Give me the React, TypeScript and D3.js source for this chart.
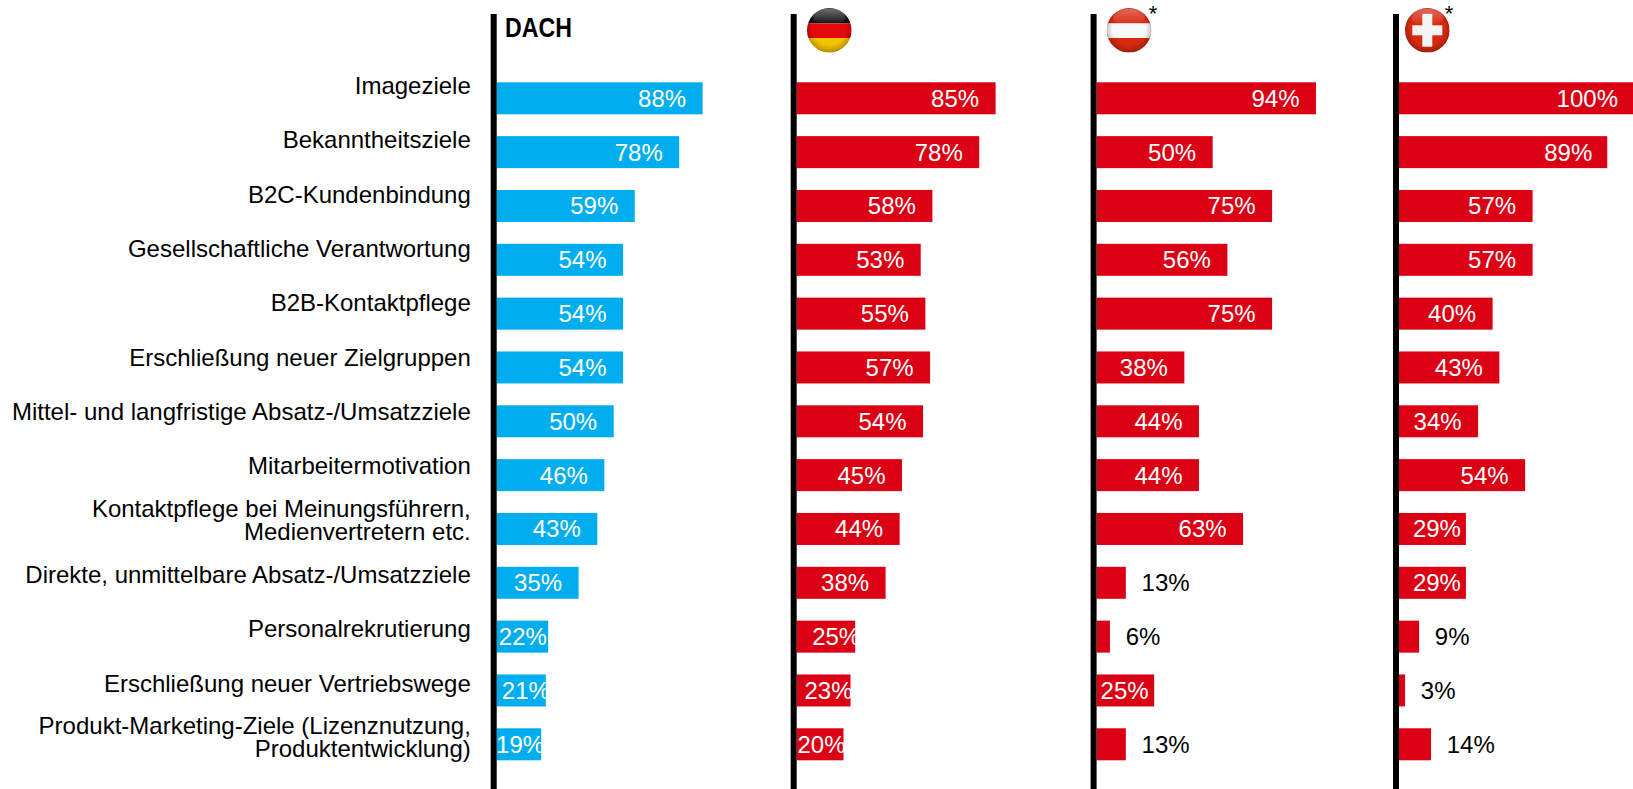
import React from "react";
import * as d3 from "d3";

const categories: string[][] = [
  ["Imageziele"],
  ["Bekanntheitsziele"],
  ["B2C-Kundenbindung"],
  ["Gesellschaftliche Verantwortung"],
  ["B2B-Kontaktpflege"],
  ["Erschließung neuer Zielgruppen"],
  ["Mittel- und langfristige Absatz-/Umsatzziele"],
  ["Mitarbeitermotivation"],
  ["Kontaktpflege bei Meinungsführern,", "Medienvertretern etc."],
  ["Direkte, unmittelbare Absatz-/Umsatzziele"],
  ["Personalrekrutierung"],
  ["Erschließung neuer Vertriebswege"],
  ["Produkt-Marketing-Ziele (Lizenznutzung,", "Produktentwicklung)"],
];
const dach = [88, 78, 59, 54, 54, 54, 50, 46, 43, 35, 22, 21, 19];
const germany = [85, 78, 58, 53, 55, 57, 54, 45, 44, 38, 25, 23, 20];
// Labels are these values rounded to whole percent.
const austria = [93.75, 49.6, 75, 55.9, 75, 37.5, 43.75, 43.75, 62.6, 12.5, 5.7, 24.6, 12.5];
const switzerland = [100, 89, 57.1, 57.1, 40, 42.9, 33.8, 53.9, 28.6, 28.6, 8.6, 2.6, 13.7];

const BLUE = "#00AEEF";
const RED = "#DC0014";
const FONT = "'Liberation Sans', Arial, sans-serif";
const LABEL_SIZE = 24;

// Distance from bar end to value-label end for the short bars, where the source
// slide lets the label drift (a negative pad runs past the end of the bar).
const shortBarPads: Record<string, Record<number, number>> = {
  dach: { 22: 1.3, 21: -4, 19: -3 },
  de: { 25: -5, 23: -2, 20: -2 },
  at: { 25: 5.5 },
  ch: { 29: 5 },
};

const panels = [
  { key: "dach", values: dach, axisX: 490.7, color: BLUE },
  { key: "de", values: germany, axisX: 790.7, color: RED },
  { key: "at", values: austria, axisX: 1090.6, color: RED },
  { key: "ch", values: switzerland, axisX: 1393, color: RED },
];

const AXIS_W = 6;
const y = d3
  .scaleBand<number>()
  .domain(d3.range(13))
  .range([82.3, 760.3])
  .paddingInner(21.83 / 53.83)
  .paddingOuter(0);
// Row labels run on a slightly wider pitch than the bars, as in the source slide.
const labelY = d3.scaleLinear().domain([0, 1]).range([94, 148.33]);

function Gloss({ cx, r }: { cx: number; r: number }) {
  return (
    <>
      <circle cx={cx} cy={30.3} r={r} fill="url(#shade)" />
      <ellipse cx={cx} cy={17} rx={r * 0.72} ry={8.5} fill="url(#shine)" />
      <circle cx={cx} cy={30.3} r={r - 0.4} fill="none" stroke="#000" strokeOpacity={0.12} strokeWidth={0.8} />
    </>
  );
}

function Flag({ kind, cx }: { kind: string; cx: number }) {
  const r = 22.3;
  const top = 30.3 - r;
  const id = `clip-${kind}`;
  return (
    <g>
      <clipPath id={id}>
        <circle cx={cx} cy={30.3} r={r} />
      </clipPath>
      <g clipPath={`url(#${id})`}>
        {kind === "de" && (
          <>
            <rect x={cx - r} y={top} width={2 * r} height={15.3} fill="url(#black)" />
            <rect x={cx - r} y={23.3} width={2 * r} height={14.7} fill="#E20A0A" />
            <rect x={cx - r} y={38} width={2 * r} height={15} fill="#F5C400" />
          </>
        )}
        {kind === "at" && (
          <>
            <rect x={cx - r} y={top} width={2 * r} height={2 * r} fill="#D92A10" />
            <rect x={cx - r} y={23.2} width={2 * r} height={14.8} fill="#F8F8F8" />
          </>
        )}
        {kind === "ch" && (
          <>
            <rect x={cx - r} y={top} width={2 * r} height={2 * r} fill="#D92A10" />
            <rect x={cx - 15} y={25.3} width={30} height={10} fill="#F4F4F4" />
            <rect x={cx - 5} y={13.8} width={10} height={33} fill="#F4F4F4" />
          </>
        )}
        <Gloss cx={cx} r={r} />
      </g>
    </g>
  );
}

export default function App() {
  return (
    <svg
      width={1633}
      height={789}
      viewBox="0 0 1633 789"
      style={{ position: "absolute", left: 0, top: 0, display: "block", background: "#fff" }}
      fontFamily={FONT}
    >
      <defs>
        <radialGradient id="shade" cx="50%" cy="45%" r="52%">
          <stop offset="72%" stopColor="#000" stopOpacity={0} />
          <stop offset="100%" stopColor="#000" stopOpacity={0.22} />
        </radialGradient>
        <linearGradient id="shine" x1="0" y1="0" x2="0" y2="1">
          <stop offset="0%" stopColor="#fff" stopOpacity={0.3} />
          <stop offset="100%" stopColor="#fff" stopOpacity={0} />
        </linearGradient>
        <linearGradient id="black" x1="0" y1="0" x2="0" y2="1">
          <stop offset="0%" stopColor="#333" />
          <stop offset="100%" stopColor="#0a0a0a" />
        </linearGradient>
      </defs>

      {categories.map((lines, i) => {
        const base = labelY(i);
        const first = lines.length === 2 ? base - 11.7 : base;
        return (
          <text key={i} textAnchor="end" fontSize={LABEL_SIZE} fill="#000">
            {lines.map((l, j) => (
              <tspan key={j} x={470.8} y={first + j * 23.2}>
                {l}
              </tspan>
            ))}
          </text>
        );
      })}

      {panels.map((p) => {
        const x0 = p.axisX + AXIS_W;
        const x = d3.scaleLinear().domain([0, 100]).range([x0, x0 + 234]);
        return (
          <g key={p.key}>
            {p.values.map((v, i) => {
              const top = y(i)!;
              const end = x(v);
              const outside = v < 15;
              const rounded = Math.round(v);
              const pad = shortBarPads[p.key][rounded] ?? (p.key === "ch" && v > 85 ? 15 : 16.5);
              return (
                <g key={i}>
                  <rect x={x0} y={top} width={end - x0} height={y.bandwidth()} fill={p.color} />
                  <text
                    x={outside ? end + 15.7 : end - pad}
                    y={top + 24.4}
                    textAnchor={outside ? "start" : "end"}
                    fontSize={24}
                    fill={outside ? "#000" : "#fff"}
                  >
                    {rounded}%
                  </text>
                </g>
              );
            })}
            <rect x={p.axisX} y={14} width={AXIS_W} height={775} fill="#000" />
          </g>
        );
      })}

      <text
        x={505}
        y={36.7}
        fontWeight={700}
        fontSize={28}
        textLength={67}
        lengthAdjust="spacingAndGlyphs"
        fill="#000"
      >
        DACH
      </text>

      <Flag kind="de" cx={829.3} />
      <Flag kind="at" cx={1129} />
      <Flag kind="ch" cx={1427.3} />
      <text x={1153} y={21} textAnchor="middle" fontSize={22} fill="#000">*</text>
      <text x={1449} y={21} textAnchor="middle" fontSize={22} fill="#000">*</text>
    </svg>
  );
}
